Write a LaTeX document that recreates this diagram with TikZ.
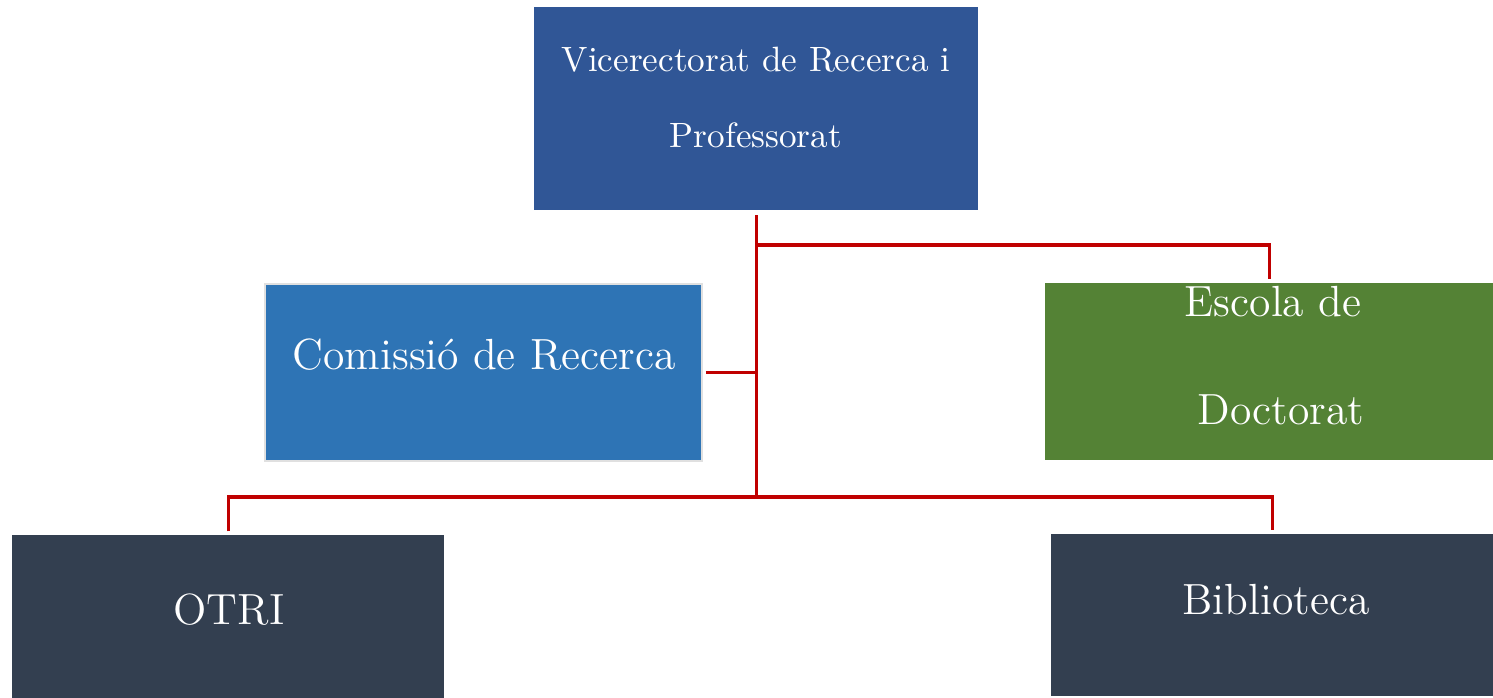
\documentclass[tikz,border=0pt]{standalone}
\usepackage{tikz}
\definecolor{vicecol}{RGB}{48,86,150}
\definecolor{comcol}{RGB}{46,116,181}
\definecolor{escolacol}{RGB}{84,130,53}
\definecolor{servcol}{RGB}{51,63,80}
\definecolor{linkcol}{RGB}{192,0,0}
\tikzset{every picture/.style={x=0.01cm,y=-0.01cm}}
\tikzset{unit/.style={rectangle,inner sep=0pt,outer sep=0pt,anchor=north west}}
\tikzset{link/.style={linkcol,line width=0.9pt}}
\tikzset{boxtext/.style={text=white,inner sep=0pt,anchor=base,font=\fontsize{10}{12}\selectfont}}
\tikzset{bigtext/.style={boxtext,font=\fontsize{12.4}{15}\selectfont}}

\begin{document}
\begin{tikzpicture}
\useasboundingbox (0,0) rectangle (1493,698);
\node [unit,fill=vicecol,minimum width=4.44cm,minimum height=2.03cm] (vice) at (534,7) {};
\node [unit,fill=comcol,draw=black!12,line width=0.5pt,minimum width=4.37cm,minimum height=1.77cm] (com) at (265,284) {};
\node [unit,fill=escolacol,minimum width=4.48cm,minimum height=1.77cm] (escola) at (1045,283) {};
\node [unit,fill=servcol,minimum width=4.32cm,minimum height=1.63cm] (otri) at (12,535) {};
\node [unit,fill=servcol,minimum width=4.42cm,minimum height=1.62cm] (bib) at (1051,534) {};

\coordinate (j1) at (vice.south |- 0,245);
\coordinate (j3) at (vice.south |- 0,497);
\draw [link,shorten <=1.5pt] (vice.south) -- (j3);
\draw [link,shorten >=1pt] (j1) -| (escola.north);
\draw [link,shorten <=1pt] (com.east) -- (com.east -| j3);
\draw [link,shorten <=1pt,shorten >=1pt] (otri.north) |- (j3) -| (bib.north);

\node [boxtext] (vicet1) at (756,72) {Vicerectorat de Recerca i};
\node [boxtext] (vicet2) at (756,148) {Professorat};
\node [bigtext] (comt) at (484,370) {Comissió de Recerca};
\node [bigtext] (escolat1) at (1273,317) {Escola de};
\node [bigtext] (escolat2) at (1281,425) {Doctorat};
\node [bigtext] (otrit) at (229,625) {OTRI};
\node [bigtext] (bibt) at (1276,615) {Biblioteca};
\end{tikzpicture}
\end{document}
